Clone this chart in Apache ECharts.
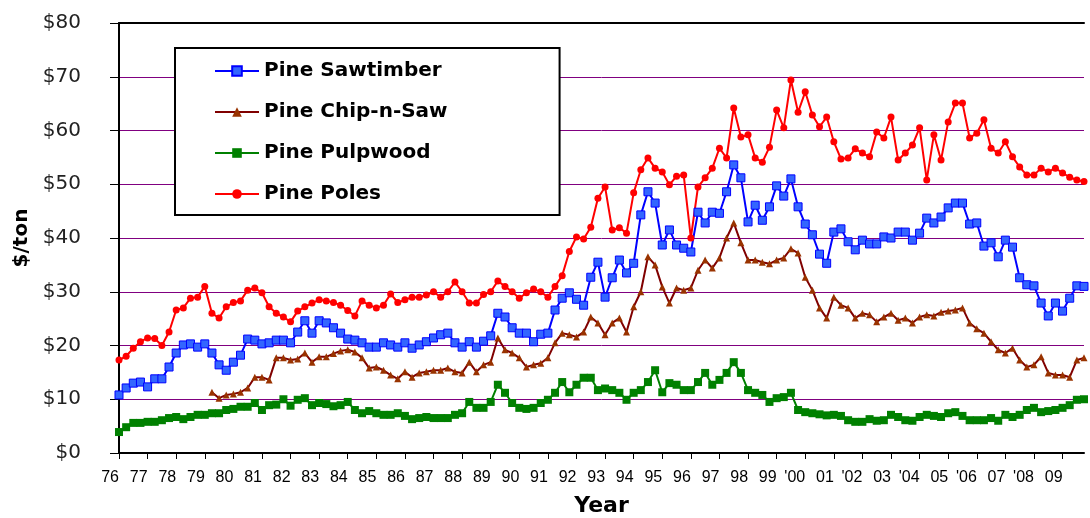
<!DOCTYPE html>
<html>
<head>
<meta charset="utf-8">
<script src="https://cdn.jsdelivr.net/npm/echarts@6/dist/echarts.min.js"></script>
<style>
html,body{margin:0;padding:0;background:#fff;}
#chart{width:1090px;height:518px;}
</style>
</head>
<body>
<div id="chart"></div>
<script>
// Year tick labels (one per year, 4 quarterly points per year)
const yearLabels = ['76','77','78','79','80','81','82','83','84','85','86','87','88','89','90','91','92','93','94','95','96','97','98','99',"'00",'01',"'02",'03',"'04",'05',"'06",'07',"'08",'09'];
const quarters = ['Q1','Q2','Q3','Q4'];

// Pine Sawtimber ($/ton), quarterly 1976Q1..2009Q4
const sawtimber = [
  10.8,12.1,13.0,13.2,12.3,13.8,13.8,16.0,18.6,20.1,20.3,19.7,20.3,18.6,16.4,15.4,16.9,18.2,21.2,21.0,
  20.3,20.5,21.0,21.0,20.5,22.5,24.6,22.3,24.6,24.2,23.3,22.3,21.2,21.0,20.5,19.7,19.7,20.5,20.1,19.7,
  20.5,19.5,20.1,20.7,21.4,22.0,22.3,20.5,19.7,20.7,19.7,20.8,21.8,26.0,25.3,23.3,22.3,22.3,20.7,22.1,
  22.3,26.6,28.8,29.8,28.6,27.5,32.7,35.5,29.0,32.6,35.9,33.5,35.3,44.3,48.6,46.5,38.7,41.5,38.7,38.1,
  37.4,44.8,42.8,44.8,44.6,48.6,53.6,51.2,43.0,46.1,43.3,45.8,49.7,47.8,51.0,45.8,42.6,40.6,37.0,35.3,
  41.1,41.7,39.3,37.8,39.6,38.9,38.9,40.2,40.0,41.1,41.1,39.6,40.9,43.7,42.8,43.9,45.6,46.5,46.5,42.6,
  42.8,38.5,39.1,36.5,39.6,38.3,32.6,31.3,31.1,27.9,25.5,27.9,26.4,28.8,31.1,31.0
];
// Pine Chip-n-Saw ($/ton), starts 1979Q2
const chipNSaw = [
  null,null,null,null,null,null,null,null,null,null,null,null,null,11.3,10.2,10.8,11.0,11.3,12.1,14.1,
  14.1,13.6,17.7,17.7,17.3,17.5,18.6,16.9,17.9,17.9,18.5,19.0,19.2,18.8,17.7,15.8,16.0,15.4,14.5,13.8,
  15.1,14.1,14.9,15.1,15.4,15.4,15.8,15.1,14.9,16.9,15.1,16.4,16.9,21.4,19.2,18.6,17.7,16.0,16.4,16.7,
  17.7,20.5,22.3,22.0,21.6,22.5,25.3,24.2,22.0,24.2,25.1,22.5,27.2,30.0,36.5,35.0,30.9,27.9,30.7,30.3,
  30.7,34.0,35.9,34.4,36.3,40.0,42.8,39.1,35.9,35.9,35.5,35.2,35.9,36.3,38.0,37.2,32.7,30.3,27.0,25.1,
  29.0,27.5,27.0,25.1,26.0,25.7,24.4,25.3,26.0,24.7,25.1,24.2,25.3,25.7,25.5,26.2,26.4,26.6,27.0,24.2,
  23.1,22.3,20.7,19.2,18.6,19.5,17.3,16.0,16.4,17.9,14.9,14.5,14.5,14.1,17.3,17.7
];
// Pine Pulpwood ($/ton)
const pulpwood = [
  3.9,4.8,5.6,5.6,5.8,5.8,6.1,6.5,6.7,6.3,6.7,7.1,7.1,7.4,7.4,8.0,8.2,8.6,8.6,9.3,
  8.0,8.9,9.0,10.0,8.8,9.9,10.2,8.9,9.3,9.1,8.7,8.9,9.5,8.0,7.4,7.8,7.4,7.1,7.1,7.4,
  6.9,6.3,6.5,6.7,6.5,6.5,6.5,7.1,7.4,9.5,8.4,8.4,9.5,12.7,11.2,9.3,8.4,8.2,8.4,9.3,
  9.9,11.2,13.2,11.3,12.7,14.0,14.0,11.7,12.0,11.7,11.2,9.9,11.2,11.7,13.2,15.4,11.3,13.0,12.7,11.7,
  11.7,13.2,14.9,12.7,13.6,14.9,16.9,14.9,11.7,11.2,10.8,9.5,10.2,10.4,11.2,8.0,7.6,7.4,7.2,7.0,
  7.1,6.9,6.1,5.8,5.8,6.3,6.0,6.1,7.1,6.7,6.1,6.0,6.7,7.1,6.9,6.7,7.4,7.6,6.9,6.1,
  6.1,6.1,6.5,6.0,7.1,6.7,7.1,8.0,8.4,7.6,7.8,8.0,8.4,8.9,9.9,10.0
];
// Pine Poles ($/ton)
const poles = [
  17.3,18.0,19.5,20.7,21.4,21.3,20.0,22.5,26.6,27.0,28.8,29.0,31.0,26.0,25.1,27.2,28.0,28.3,30.3,30.7,
  29.8,27.2,26.0,25.3,24.4,26.4,27.2,27.9,28.5,28.3,28.0,27.5,26.5,25.5,28.3,27.5,27.0,27.5,29.6,28.0,
  28.5,29.0,29.0,29.4,30.0,29.0,30.0,31.8,30.0,27.9,27.9,29.5,30.0,32.0,31.0,30.0,28.8,29.8,30.5,30.0,
  29.0,31.0,33.0,37.5,40.2,39.8,42.0,47.4,49.5,41.5,41.9,40.9,48.4,52.7,54.9,53.0,52.3,49.9,51.5,51.7,
  40.0,49.5,51.2,53.0,56.7,54.9,64.2,58.8,59.2,54.9,54.1,56.9,63.8,60.5,69.4,63.4,67.2,62.9,60.7,62.5,
  57.9,54.7,54.9,56.6,55.8,55.1,59.7,58.6,62.5,54.5,55.8,57.3,60.5,50.8,59.2,54.5,61.6,65.1,65.1,58.6,
  59.5,62.0,56.7,55.8,57.9,55.1,53.2,51.7,51.7,53.0,52.3,53.0,52.1,51.3,50.8,50.5
];

const categories = [];
yearLabels.forEach(function (y) { quarters.forEach(function (q) { categories.push(y + '|' + q); }); });

const chart = echarts.init(document.getElementById('chart'), null, {renderer: 'canvas'});
const legendFont = {fontFamily: 'DejaVu Sans', fontWeight: 'bold', fontSize: 20, color: '#000', lineHeight: 20};

chart.setOption({
  animation: false,
  backgroundColor: '#fff',
  grid: {left: 119, right: 6, top: 23, bottom: 65, containLabel: false, outerBoundsMode: 'none'},
  legend: {
    orient: 'vertical',
    left: 175, top: 48,
    padding: [13, 112, 11, 39],
    itemGap: 21,
    itemWidth: 44, itemHeight: 12,
    borderColor: '#000', borderWidth: 2,
    backgroundColor: '#fff',
    textStyle: legendFont,
    data: ['Pine Sawtimber', 'Pine Chip-n-Saw', 'Pine Pulpwood', 'Pine Poles']
  },
  xAxis: [{
    type: 'category',
    data: categories,
    boundaryGap: false,
    name: 'Year',
    nameLocation: 'middle',
    nameGap: 42,
    nameTextStyle: {fontFamily: 'DejaVu Sans', fontWeight: 'bold', fontSize: 22, color: '#000'},
    axisLine: {lineStyle: {color: '#000', width: 2}},
    axisTick: {interval: 3, length: 6, lineStyle: {color: '#000', width: 1}},
    axisLabel: {
      interval: 3, margin: 17, align: 'right',
      fontFamily: 'Liberation Sans Narrow, Liberation Sans, Arial', fontSize: 16, color: '#000',
      formatter: function (v) { return v.split('|')[0]; }
    },
    splitLine: {show: false}
  }, {
    type: 'category',
    position: 'top',
    data: categories,
    boundaryGap: false,
    axisLine: {lineStyle: {color: '#000', width: 2}},
    axisTick: {show: false},
    axisLabel: {show: false}
  }],
  yAxis: {
    type: 'value',
    min: 0, max: 80, interval: 10,
    name: '$/ton',
    nameLocation: 'middle',
    nameGap: 78,
    nameTextStyle: {fontFamily: 'DejaVu Sans', fontWeight: 'bold', fontSize: 20, color: '#000'},
    axisLine: {show: true, lineStyle: {color: '#000', width: 2}},
    axisTick: {show: true, length: 9, lineStyle: {color: '#000', width: 1}},
    axisLabel: {
      margin: 38,
      fontFamily: 'DejaVu Sans', fontSize: 20, color: '#222',
      formatter: function (v) { return '$' + v; }
    },
    splitLine: {show: true, lineStyle: {color: '#800080', width: 1}}
  },
  series: [{
    name: 'Pine Sawtimber', type: 'line', data: sawtimber,
    symbol: 'rect', symbolSize: 8, showAllSymbol: true,
    lineStyle: {color: '#0000FF', width: 2},
    itemStyle: {color: '#3366FF', borderColor: '#0000FF', borderWidth: 1},
    z: 3
  }, {
    name: 'Pine Chip-n-Saw', type: 'line', data: chipNSaw,
    symbol: 'triangle', symbolSize: 7, showAllSymbol: true,
    lineStyle: {color: '#800000', width: 2},
    itemStyle: {color: '#993300', borderColor: '#993300', borderWidth: 0},
    z: 2
  }, {
    name: 'Pine Pulpwood', type: 'line', data: pulpwood,
    symbol: 'rect', symbolSize: 8, showAllSymbol: true,
    lineStyle: {color: '#008000', width: 2},
    itemStyle: {color: '#008000', borderColor: '#008000', borderWidth: 0},
    z: 2
  }, {
    name: 'Pine Poles', type: 'line', data: poles,
    symbol: 'circle', symbolSize: 7, showAllSymbol: true,
    lineStyle: {color: '#FF0000', width: 2},
    itemStyle: {color: '#FF0000', borderColor: '#FF0000', borderWidth: 0},
    z: 3
  }]
});
</script>
</body>
</html>
